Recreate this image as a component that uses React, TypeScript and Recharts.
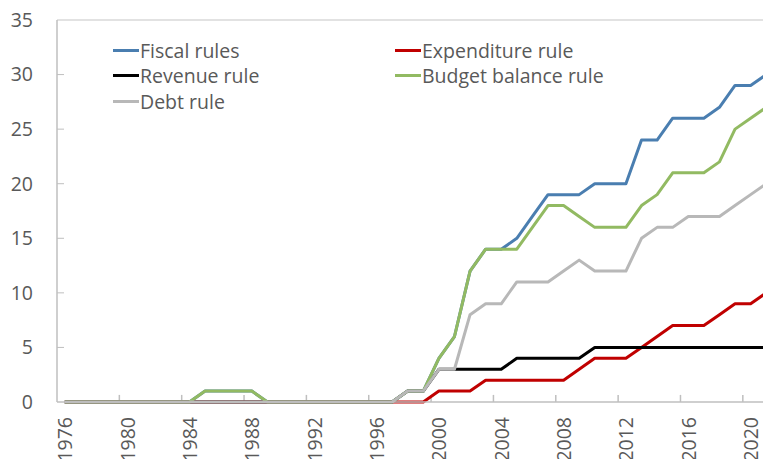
import React from 'react';
import { LineChart, Line, XAxis, YAxis, ReferenceLine, Legend } from 'recharts';

const years = [
  1976, 1977, 1978, 1979, 1980, 1981, 1982, 1983, 1984, 1985, 1986, 1987, 1988, 1989, 1990, 1991,
  1992, 1993, 1994, 1995, 1996, 1997, 1998, 1999, 2000, 2001, 2002, 2003, 2004, 2005, 2006, 2007,
  2008, 2009, 2010, 2011, 2012, 2013, 2014, 2015, 2016, 2017, 2018, 2019, 2020, 2021,
];

const fiscalRules = [
  0, 0, 0, 0, 0, 0, 0, 0, 0, 1, 1, 1, 1, 0, 0, 0, 0, 0, 0, 0, 0, 0,
  1, 1, 4, 6, 12, 14, 14, 15, 17, 19, 19, 19, 20, 20, 20, 24, 24, 26, 26, 26, 27, 29, 29, 30,
];
const expenditureRule = [
  0, 0, 0, 0, 0, 0, 0, 0, 0, 0, 0, 0, 0, 0, 0, 0, 0, 0, 0, 0, 0, 0,
  0, 0, 1, 1, 1, 2, 2, 2, 2, 2, 2, 3, 4, 4, 4, 5, 6, 7, 7, 7, 8, 9, 9, 10,
];
const revenueRule = [
  0, 0, 0, 0, 0, 0, 0, 0, 0, 0, 0, 0, 0, 0, 0, 0, 0, 0, 0, 0, 0, 0,
  1, 1, 3, 3, 3, 3, 3, 4, 4, 4, 4, 4, 5, 5, 5, 5, 5, 5, 5, 5, 5, 5, 5, 5,
];
const budgetBalanceRule = [
  0, 0, 0, 0, 0, 0, 0, 0, 0, 1, 1, 1, 1, 0, 0, 0, 0, 0, 0, 0, 0, 0,
  1, 1, 4, 6, 12, 14, 14, 14, 16, 18, 18, 17, 16, 16, 16, 18, 19, 21, 21, 21, 22, 25, 26, 27,
];
const debtRule = [
  0, 0, 0, 0, 0, 0, 0, 0, 0, 0, 0, 0, 0, 0, 0, 0, 0, 0, 0, 0, 0, 0,
  1, 1, 3, 3, 8, 9, 9, 11, 11, 11, 12, 13, 12, 12, 12, 15, 16, 16, 17, 17, 17, 18, 19, 20,
];

const xTicks = [1976, 1980, 1984, 1988, 1992, 1996, 2000, 2004, 2008, 2012, 2016, 2020];
const yTicks = [0, 5, 10, 15, 20, 25, 30, 35];

const series = [
  { key: 'fiscal', name: 'Fiscal rules', color: '#4A7EB0', values: fiscalRules },
  { key: 'expenditure', name: 'Expenditure rule', color: '#C00000', values: expenditureRule },
  { key: 'revenue', name: 'Revenue rule', color: '#000000', values: revenueRule },
  { key: 'budget', name: 'Budget balance rule', color: '#92BA62', values: budgetBalanceRule },
  { key: 'debt', name: 'Debt rule', color: '#B8B8B8', values: debtRule },
];

const data = years.map((year, i) => {
  const row: Record<string, number> = { year };
  series.forEach((s) => {
    row[s.key] = s.values[i];
  });
  return row;
});

const FONT = "'Open Sans', 'Noto Sans', sans-serif";
const TEXT = '#595959';
const AXIS = '#BFBFBF';
const FS = 19.5;

const XTick = (props: any) => {
  const { x, y, payload } = props;
  return (
    <text
      x={x}
      y={y}
      transform={`rotate(-90 ${x} ${y})`}
      textAnchor="end"
      dominantBaseline="central"
      fill={TEXT}
      fontSize={FS}
      fontFamily={FONT}
    >
      {payload.value}
    </text>
  );
};

const LegendContent = () => (
  <div
    style={{
      display: 'grid',
      gridTemplateColumns: '282px 280px',
      rowGap: 0,
      fontFamily: FONT,
      fontSize: FS,
      color: TEXT,
    }}
  >
    {series.map((s) => (
      <div
        key={s.key}
        style={{ display: 'flex', alignItems: 'center', height: 25.3, whiteSpace: 'nowrap', lineHeight: '25px' }}
      >
        <span style={{ display: 'inline-block', width: 26, height: 3, background: s.color, marginRight: 1 }} />
        <span>{s.name}</span>
      </div>
    ))}
  </div>
);

const xStart = years[0] - 0.5;
const xEnd = years[years.length - 1] + 0.5;
const xMarks = xTicks.slice(1).map((t) => t - 0.5);

export default function App() {
  return (
    <div
      style={{
        position: 'fixed',
        left: 0,
        top: 0,
        width: 763,
        height: 459,
        overflow: 'hidden',
        background: '#fff',
      }}
    >
      <LineChart width={790} height={459} data={data} margin={{ top: 20, right: 16, left: 0, bottom: 0 }}>
        <XAxis
          dataKey="year"
          type="number"
          domain={[xStart, xEnd]}
          ticks={xTicks}
          interval={0}
          allowDataOverflow
          height={57}
          tickLine={false}
          tickSize={0}
          tickMargin={15}
          axisLine={{ stroke: AXIS, strokeWidth: 1.5 }}
          tick={<XTick />}
        />
        <YAxis
          type="number"
          domain={[0, 35]}
          ticks={yTicks}
          interval={0}
          width={57}
          tickLine={false}
          tickSize={0}
          tickMargin={24}
          axisLine={{ stroke: AXIS, strokeWidth: 1.5 }}
          tick={{ fill: TEXT, fontSize: FS, fontFamily: FONT }}
        />
        <ReferenceLine y={35} stroke="#D9D9D9" strokeWidth={1.5} />
        {yTicks.slice(1, -1).map((v) => (
          <ReferenceLine
            key={`yt${v}`}
            segment={[
              { x: xStart, y: v },
              { x: xStart + 0.45, y: v },
            ]}
            stroke={AXIS}
            strokeWidth={1}
          />
        ))}
        {xMarks.map((b) => (
          <ReferenceLine
            key={`xt${b}`}
            segment={[
              { x: b, y: 0 },
              { x: b, y: 0.65 },
            ]}
            stroke={AXIS}
            strokeWidth={1.5}
          />
        ))}
        <Legend
          layout="vertical"
          align="center"
          verticalAlign="middle"
          content={<LegendContent />}
          wrapperStyle={{ left: 113, top: 38, width: 580 }}
        />
        {series.map((s) => (
          <Line
            key={s.key}
            dataKey={s.key}
            name={s.name}
            type="linear"
            stroke={s.color}
            strokeWidth={3}
            dot={false}
            activeDot={false}
            isAnimationActive={false}
            strokeLinejoin="round"
          />
        ))}
      </LineChart>
    </div>
  );
}
